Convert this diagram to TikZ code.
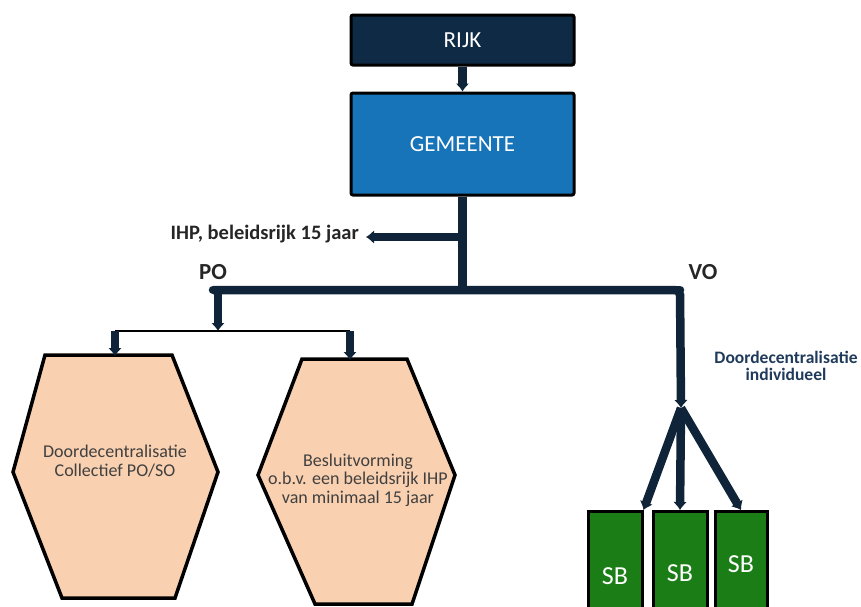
\documentclass[tikz,border=0pt]{standalone}
\usepackage{fontspec}
\setmainfont{Carlito}
\usetikzlibrary{arrows.meta}
\definecolor{rijkc}{HTML}{0E2A45}
\definecolor{gemc}{HTML}{1874B8}
\definecolor{linec}{HTML}{0F2438}
\definecolor{hexc}{HTML}{F9D0B0}
\definecolor{hextxt}{HTML}{404040}
\definecolor{sbc}{HTML}{1B7D15}
\definecolor{labc}{HTML}{262626}
\definecolor{indc}{HTML}{1F3A5A}
\begin{document}
\begin{tikzpicture}[x=1pt,y=-1pt,
  topbox/.style={draw=black, line width=3pt, rounded corners=2pt, text=white, font=\fontsize{23}{27}\selectfont, minimum width=223pt, inner sep=0pt},
  conn/.style={draw=linec, line width=8.5pt},
  arr/.style={-{Latex[length=8pt,width=14pt]}},
  hexshape/.style={draw=black, line width=3.5pt, fill=hexc},
  hextext/.style={align=center, text=hextxt, font=\fontsize{18}{18.5}\selectfont},
  sbbox/.style={draw=black, line width=3pt, fill=sbc, text=white, font=\fontsize{26}{30}\selectfont, anchor=north, inner sep=0pt},
  boldlab/.style={font=\bfseries\fontsize{23}{27}\selectfont, text=labc, inner sep=0pt}
]
\useasboundingbox (0,0) rectangle (861,606);
\clip (0,0) rectangle (861,606);

% top boxes
\node[topbox, fill=rijkc, minimum height=50pt] (rijk) at (462.5,40) {RIJK};
\node[topbox, fill=gemc, minimum height=102pt] (gem) at (462.5,144) {GEMEENTE};

% coordinates of connector junctions
\coordinate (j1) at (462.5,237);
\coordinate (j2) at (462.5,290);
\coordinate (ihptip) at (366,237);
\coordinate (pol) at (213,290);
\coordinate (vor) at (680,290);
\coordinate (fork) at (681,408);
\coordinate (pod0) at (218,290);
\coordinate (pod) at (218,331);
\coordinate (tl) at (115,331);
\coordinate (tr) at (350,331);
\coordinate (hex1top) at (115,356);
\coordinate (hex2top) at (350,360);

% hexagons
\draw[hexshape] (13,472) -- (45,355) -- (172,355) -- (218,472) -- (175,598) -- (62,598) -- cycle;
\draw[hexshape] (258,475) -- (302,359) -- (407,359) -- (455,475) -- (412,604) -- (315,604) -- cycle;
\node[hextext] (hex1) at (115,461) {Doordecentralisatie\\Collectief PO/SO};
\node[hextext] (hex2) at (358,480) {Besluitvorming\\o.b.v. een beleidsrijk IHP\\van minimaal 15 jaar};

% SB boxes
\node[sbbox, minimum width=54pt, minimum height=130pt] (sb1) at (615,510) {SB};
\node[sbbox, minimum width=54pt, minimum height=124pt] (sb2) at (680,510) {SB};
\node[sbbox, minimum width=52pt, minimum height=106pt] (sb3) at (741,510) {SB};

% labels
\node[font=\bfseries\fontsize{20.5}{24}\selectfont, text=labc, anchor=east, inner sep=0pt] (ihp) at (359,234) {IHP, beleidsrijk 15 jaar};
\node[boldlab] (po) at (213,272) {PO};
\node[boldlab] (vo) at (703,272) {VO};
\node[font=\bfseries\fontsize{17.5}{17}\selectfont, text=indc, align=center, inner sep=0pt] (ind) at (786,366) {Doordecentralisatie\\individueel};

% connectors
\draw[conn, arr] (rijk.south) -- (gem.north);
\draw[conn] (gem.south) -- (j2);
\draw[conn, arr] (j1) -- (ihptip);
\draw[conn, line cap=round] (pol) -- (vor);
\draw[conn, arr, rounded corners=5pt] (pol) -- (vor) -- (fork);
\draw[conn, arr] (pod0) -- (pod);
\draw[black, line width=2pt] (tl) -- (tr);
\draw[conn, arr] (tl) -- (hex1top);
\draw[conn, arr] (tr) -- (hex2top);
\draw[conn, arr] (fork) -- (sb1.north east);
\draw[conn, arr] (fork) -- (sb2.north);
\draw[conn, arr] (fork) -- (sb3.north);
\end{tikzpicture}
\end{document}
